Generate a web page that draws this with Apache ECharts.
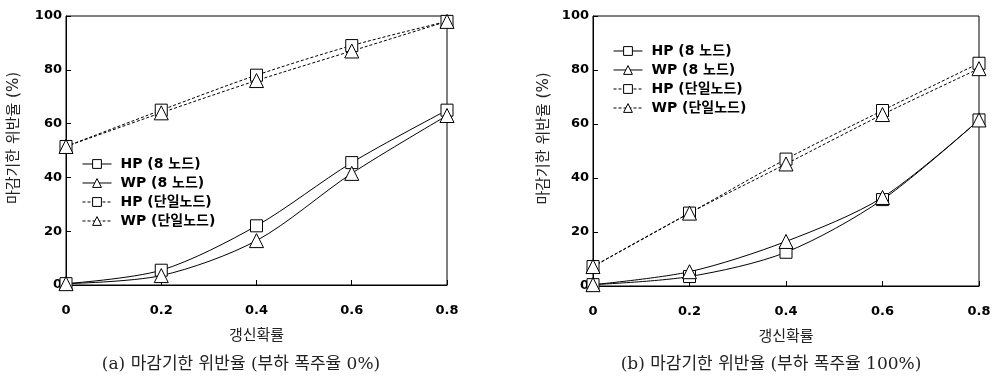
<!DOCTYPE html>
<html>
<head>
<meta charset="utf-8">
<script src="https://cdn.jsdelivr.net/npm/echarts@6/dist/echarts.min.js"></script>
<style>
  html, body { margin: 0; padding: 0; background: #fff; }
  #chart { width: 1002px; height: 380px; }
</style>
</head>
<body>
<div id="chart"></div>
<script>
(function () {
  'use strict';

  const xValues = [0, 0.2, 0.4, 0.6, 0.8];
  const seriesNames = ['HP (8 노드)', 'WP (8 노드)', 'HP (단일노드)', 'WP (단일노드)'];

  // (a) 부하 폭주율 0%
  const hp8A = [0.5, 5.5, 22, 45.5, 65];
  const wp8A = [0.5, 3.5, 16.5, 41.5, 63];
  const hpSingleA = [51.5, 65, 78, 89, 98];
  const wpSingleA = [51.5, 64, 76, 87, 98];

  // (b) 부하 폭주율 100%
  const hp8B = [0.5, 3.5, 12.5, 32, 61.5];
  const wp8B = [0.5, 5.3, 16.5, 32.8, 61.5];
  const hpSingleB = [7.2, 27, 47, 65, 82.5];
  const wpSingleB = [7.2, 27, 45.2, 63.5, 80.5];

  const captions = ['(a) 마감기한 위반율 (부하 폭주율 0%)', '(b) 마감기한 위반율 (부하 폭주율 100%)'];

  const sansFont = '"DejaVu Sans", Verdana, "Noto Sans CJK KR", sans-serif';
  const serifFont = '"DejaVu Serif", "Liberation Serif", "Noto Sans CJK KR", serif';

  const chart = echarts.init(document.getElementById('chart'), null, { renderer: 'canvas' });

  function pairs(values) {
    return xValues.map((x, i) => [x, values[i]]);
  }

  function makeSeries(name, values, gridIndex, single, symbol) {
    return {
      name,
      type: 'line',
      xAxisIndex: gridIndex,
      yAxisIndex: gridIndex,
      data: pairs(values),
      smooth: 0.3,
      symbol,
      symbolSize: symbol === 'rect' ? 12 : 14,
      showSymbol: true,
      lineStyle: { color: '#000', width: 1, type: single ? [3, 2] : 'solid' },
      itemStyle: { color: '#fff', borderColor: '#000', borderWidth: 1 },
      emphasis: { disabled: true },
      animation: false
    };
  }

  function xAxis(gridIndex) {
    return {
      type: 'value',
      gridIndex,
      min: 0,
      max: 0.8,
      interval: 0.2,
      name: '갱신확률',
      nameLocation: 'middle',
      nameGap: 44,
      nameTextStyle: { color: '#222', fontSize: 15, fontFamily: sansFont },
      axisLine: { lineStyle: { color: '#000', width: 1 } },
      axisTick: { inside: true, length: 5, lineStyle: { color: '#000' } },
      splitLine: { show: false },
      axisLabel: {
        color: '#000', fontSize: 13, fontWeight: 'bold', margin: 19, fontFamily: sansFont,
        formatter: (v) => (v === 0 ? '0' : v.toFixed(1))
      }
    };
  }

  function yAxis(gridIndex, gap) {
    return {
      type: 'value',
      gridIndex,
      min: 0,
      max: 100,
      interval: 20,
      name: '마감기한 위반율 (%)',
      nameLocation: 'middle',
      nameGap: gap,
      nameRotate: 90,
      nameTextStyle: { color: '#222', fontSize: 15, fontFamily: sansFont, padding: [0, 0, 0, 25] },
      axisLine: { lineStyle: { color: '#000', width: 1 } },
      axisTick: { inside: true, length: 5, lineStyle: { color: '#000' } },
      splitLine: { show: false },
      axisLabel: { color: '#000', fontSize: 13, fontWeight: 'bold', margin: 4, fontFamily: sansFont }
    };
  }

  function legend(left, top) {
    return {
      orient: 'vertical',
      left,
      top,
      padding: 0,
      itemWidth: 29,
      itemHeight: 11,
      itemGap: 5,
      data: seriesNames,
      selectedMode: false,
      itemStyle: { color: '#fff', borderColor: '#000', borderWidth: 1 },
      lineStyle: { width: 1 },
      textStyle: { color: '#000', fontSize: 14, fontWeight: 'bold', fontFamily: sansFont, padding: [0, 0, 0, 4] }
    };
  }

  chart.setOption({
    backgroundColor: '#fff',
    animation: false,
    title: [
      { text: captions[0], left: 236, top: 351, textAlign: 'center',
        textStyle: { color: '#222', fontSize: 17, fontWeight: 'normal', fontFamily: serifFont } },
      { text: captions[1], left: 766, top: 351, textAlign: 'center',
        textStyle: { color: '#222', fontSize: 17, fontWeight: 'normal', fontFamily: serifFont } }
    ],
    grid: [
      { left: 66, right: 555, top: 16, bottom: 95, show: true, borderColor: '#000', borderWidth: 1 },
      { left: 593, right: 23, top: 16, bottom: 94, show: true, borderColor: '#000', borderWidth: 1 }
    ],
    legend: [legend(82, 157), legend(613, 44)],
    xAxis: [xAxis(0), xAxis(1)],
    yAxis: [yAxis(0, 44), yAxis(1, 41)],
    series: [
      makeSeries(seriesNames[0], hp8A, 0, false, 'rect'),
      makeSeries(seriesNames[1], wp8A, 0, false, 'triangle'),
      makeSeries(seriesNames[2], hpSingleA, 0, true, 'rect'),
      makeSeries(seriesNames[3], wpSingleA, 0, true, 'triangle'),
      makeSeries(seriesNames[0], hp8B, 1, false, 'rect'),
      makeSeries(seriesNames[1], wp8B, 1, false, 'triangle'),
      makeSeries(seriesNames[2], hpSingleB, 1, true, 'rect'),
      makeSeries(seriesNames[3], wpSingleB, 1, true, 'triangle')
    ]
  });
})();
</script>
</body>
</html>
